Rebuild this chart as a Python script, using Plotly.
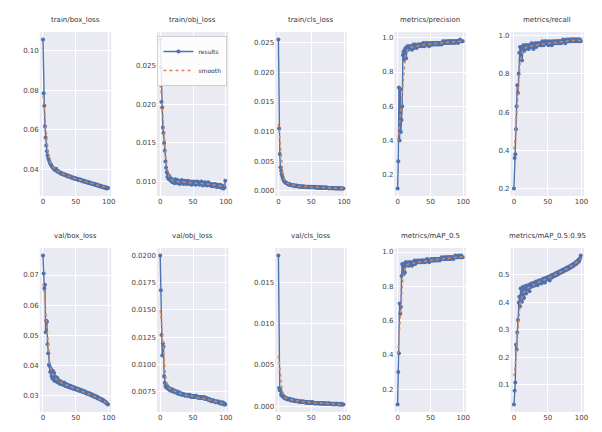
import numpy as np
import plotly.graph_objects as go

epochs = list(range(100))

train_box_loss = [
    0.1055, 0.0785, 0.0722, 0.0618, 0.0562, 0.0521, 0.0492, 0.0473, 0.0459, 0.0448,
    0.0439, 0.0431, 0.0426, 0.0419, 0.0415, 0.0410, 0.0406, 0.0403, 0.0399, 0.0397,
    0.0404, 0.0395, 0.0391, 0.0389, 0.0392, 0.0386, 0.0383, 0.0385, 0.0380, 0.0378,
    0.0381, 0.0376, 0.0374, 0.0377, 0.0372, 0.0370, 0.0373, 0.0368, 0.0366, 0.0369,
    0.0365, 0.0363, 0.0366, 0.0361, 0.0359, 0.0362, 0.0357, 0.0356, 0.0359, 0.0354,
    0.0353, 0.0356, 0.0351, 0.0350, 0.0353, 0.0348, 0.0347, 0.0350, 0.0345, 0.0344,
    0.0347, 0.0342, 0.0341, 0.0344, 0.0339, 0.0338, 0.0341, 0.0336, 0.0335, 0.0338,
    0.0333, 0.0332, 0.0335, 0.0330, 0.0329, 0.0332, 0.0327, 0.0326, 0.0329, 0.0324,
    0.0323, 0.0326, 0.0321, 0.0320, 0.0323, 0.0318, 0.0317, 0.0320, 0.0315, 0.0314,
    0.0317, 0.0312, 0.0311, 0.0314, 0.0309, 0.0308, 0.0311, 0.0306, 0.0305, 0.0308,
]

train_obj_loss = [
    0.0284, 0.0248, 0.0203, 0.0196, 0.0170, 0.0163, 0.0150, 0.0140, 0.0126, 0.0118,
    0.0112, 0.0106, 0.0109, 0.0103, 0.0107, 0.0102, 0.0104, 0.0100, 0.0103, 0.0099,
    0.0102, 0.0101, 0.0098, 0.0103, 0.0100, 0.0099, 0.0102, 0.0098, 0.0101, 0.0100,
    0.0097, 0.0101, 0.0099, 0.0102, 0.0098, 0.0100, 0.0097, 0.0101, 0.0099, 0.0098,
    0.0100, 0.0097, 0.0101, 0.0098, 0.0099, 0.0097, 0.0100, 0.0098, 0.0096, 0.0099,
    0.0098, 0.0100, 0.0097, 0.0099, 0.0096, 0.0098, 0.0100, 0.0097, 0.0099, 0.0098,
    0.0096, 0.0099, 0.0097, 0.0100, 0.0098, 0.0095, 0.0098, 0.0097, 0.0099, 0.0096,
    0.0098, 0.0095, 0.0097, 0.0099, 0.0096, 0.0098, 0.0095, 0.0097, 0.0096, 0.0094,
    0.0097, 0.0095, 0.0096, 0.0094, 0.0097, 0.0095, 0.0093, 0.0096, 0.0094, 0.0095,
    0.0093, 0.0096, 0.0094, 0.0092, 0.0095, 0.0093, 0.0091, 0.0094, 0.0092, 0.0101,
]

train_cls_loss = [
    0.0255, 0.0105, 0.0062, 0.0040, 0.0034, 0.0028, 0.0024, 0.0021, 0.0018, 0.0016,
    0.0015, 0.0014, 0.0013, 0.0013, 0.0012, 0.0011, 0.0012, 0.0010, 0.0011, 0.0010,
    0.0010, 0.0009, 0.0010, 0.0009, 0.0009, 0.0008, 0.0009, 0.0008, 0.0009, 0.0008,
    0.0008, 0.0008, 0.0007, 0.0008, 0.0007, 0.0008, 0.0007, 0.0007, 0.0008, 0.0007,
    0.0007, 0.0007, 0.0006, 0.0007, 0.0007, 0.0006, 0.0007, 0.0006, 0.0007, 0.0006,
    0.0006, 0.0007, 0.0006, 0.0006, 0.0006, 0.0007, 0.0006, 0.0006, 0.0005, 0.0006,
    0.0006, 0.0005, 0.0006, 0.0006, 0.0005, 0.0006, 0.0005, 0.0006, 0.0005, 0.0005,
    0.0006, 0.0005, 0.0005, 0.0006, 0.0005, 0.0005, 0.0005, 0.0004, 0.0005, 0.0005,
    0.0005, 0.0004, 0.0005, 0.0005, 0.0004, 0.0005, 0.0004, 0.0005, 0.0004, 0.0004,
    0.0005, 0.0004, 0.0004, 0.0004, 0.0005, 0.0004, 0.0004, 0.0004, 0.0004, 0.0004,
]

precision = [
    0.12, 0.28, 0.71, 0.40, 0.70, 0.45, 0.52, 0.60, 0.90, 0.92,
    0.87, 0.93, 0.94, 0.88, 0.94, 0.95, 0.93, 0.95, 0.94, 0.95,
    0.94, 0.95, 0.93, 0.95, 0.96, 0.94, 0.95, 0.96, 0.95, 0.94,
    0.95, 0.96, 0.95, 0.96, 0.95, 0.96, 0.96, 0.95, 0.96, 0.97,
    0.96, 0.95, 0.96, 0.97, 0.96, 0.96, 0.97, 0.96, 0.95, 0.96,
    0.97, 0.96, 0.96, 0.97, 0.96, 0.97, 0.96, 0.97, 0.97, 0.96,
    0.97, 0.96, 0.97, 0.97, 0.96, 0.97, 0.97, 0.96, 0.97, 0.98,
    0.97, 0.97, 0.98, 0.97, 0.97, 0.98, 0.97, 0.98, 0.97, 0.98,
    0.98, 0.97, 0.98, 0.98, 0.97, 0.98, 0.98, 0.97, 0.98, 0.98,
    0.98, 0.98, 0.97, 0.98, 0.98, 0.99, 0.98, 0.98, 0.98, 0.98,
]

recall = [
    0.20, 0.36, 0.38, 0.51, 0.63, 0.74, 0.70, 0.80, 0.91, 0.94,
    0.88, 0.94, 0.87, 0.93, 0.95, 0.92, 0.94, 0.95, 0.93, 0.95,
    0.94, 0.95, 0.93, 0.95, 0.94, 0.95, 0.96, 0.94, 0.95, 0.93,
    0.95, 0.96, 0.95, 0.94, 0.96, 0.95, 0.96, 0.95, 0.96, 0.95,
    0.96, 0.95, 0.97, 0.96, 0.95, 0.96, 0.97, 0.96, 0.96, 0.97,
    0.96, 0.95, 0.96, 0.97, 0.96, 0.96, 0.95, 0.97, 0.96, 0.96,
    0.97, 0.96, 0.96, 0.97, 0.96, 0.97, 0.97, 0.96, 0.97, 0.97,
    0.96, 0.97, 0.97, 0.98, 0.97, 0.97, 0.96, 0.97, 0.98, 0.97,
    0.97, 0.98, 0.97, 0.97, 0.98, 0.97, 0.98, 0.98, 0.97, 0.98,
    0.98, 0.97, 0.98, 0.98, 0.97, 0.98, 0.98, 0.97, 0.98, 0.97,
]

val_box_loss = [
    0.0765, 0.0705, 0.0655, 0.0668, 0.0510, 0.0548, 0.0545, 0.0470, 0.0440, 0.0402,
    0.0398, 0.0378, 0.0390, 0.0365, 0.0358, 0.0382, 0.0352, 0.0375, 0.0348, 0.0362,
    0.0355, 0.0346, 0.0358, 0.0343, 0.0350, 0.0340, 0.0348, 0.0338, 0.0345, 0.0337,
    0.0342, 0.0335, 0.0343, 0.0333, 0.0339, 0.0331, 0.0337, 0.0330, 0.0335, 0.0328,
    0.0333, 0.0327, 0.0332, 0.0325, 0.0330, 0.0324, 0.0328, 0.0322, 0.0327, 0.0321,
    0.0325, 0.0319, 0.0323, 0.0318, 0.0322, 0.0316, 0.0320, 0.0315, 0.0318, 0.0313,
    0.0317, 0.0312, 0.0315, 0.0310, 0.0313, 0.0308, 0.0311, 0.0306, 0.0309, 0.0305,
    0.0308, 0.0303, 0.0306, 0.0301, 0.0304, 0.0299, 0.0302, 0.0297, 0.0300, 0.0295,
    0.0298, 0.0293, 0.0296, 0.0291, 0.0294, 0.0289, 0.0291, 0.0287, 0.0289, 0.0285,
    0.0287, 0.0282, 0.0284, 0.0280, 0.0281, 0.0277, 0.0278, 0.0274, 0.0272, 0.0270,
]

val_obj_loss = [
    0.0200, 0.0168, 0.0127, 0.0108, 0.0119, 0.0116, 0.0089, 0.0083, 0.0080, 0.0079,
    0.0081, 0.0078, 0.0079, 0.0077, 0.0078, 0.0076, 0.0077, 0.0076, 0.0077, 0.0075,
    0.0076, 0.0075, 0.0076, 0.0074, 0.0075, 0.0074, 0.0075, 0.0073, 0.0074, 0.0073,
    0.0074, 0.0073, 0.0072, 0.0073, 0.0072, 0.0073, 0.0072, 0.0072, 0.0071, 0.0072,
    0.0072, 0.0071, 0.0072, 0.0071, 0.0071, 0.0072, 0.0071, 0.0070, 0.0071, 0.0070,
    0.0071, 0.0070, 0.0071, 0.0070, 0.0070, 0.0071, 0.0070, 0.0070, 0.0069, 0.0070,
    0.0070, 0.0069, 0.0070, 0.0069, 0.0070, 0.0069, 0.0069, 0.0070, 0.0068, 0.0069,
    0.0068, 0.0069, 0.0068, 0.0068, 0.0067, 0.0068, 0.0067, 0.0067, 0.0066, 0.0067,
    0.0066, 0.0067, 0.0066, 0.0066, 0.0065, 0.0066, 0.0065, 0.0065, 0.0066, 0.0065,
    0.0065, 0.0064, 0.0065, 0.0064, 0.0064, 0.0065, 0.0064, 0.0063, 0.0064, 0.0063,
]

val_cls_loss = [
    0.0183, 0.0022, 0.0019, 0.0020, 0.0014, 0.0016, 0.0012, 0.0013, 0.0011, 0.0010,
    0.0011, 0.0009, 0.0010, 0.0009, 0.0008, 0.0009, 0.0008, 0.0009, 0.0008, 0.0007,
    0.0008, 0.0007, 0.0008, 0.0007, 0.0007, 0.0006, 0.0007, 0.0006, 0.0007, 0.0006,
    0.0006, 0.0006, 0.0005, 0.0006, 0.0005, 0.0006, 0.0005, 0.0005, 0.0006, 0.0005,
    0.0005, 0.0005, 0.0004, 0.0005, 0.0005, 0.0004, 0.0005, 0.0004, 0.0004, 0.0005,
    0.0004, 0.0004, 0.0005, 0.0004, 0.0004, 0.0004, 0.0003, 0.0004, 0.0004, 0.0004,
    0.0004, 0.0003, 0.0004, 0.0004, 0.0003, 0.0004, 0.0003, 0.0004, 0.0003, 0.0003,
    0.0003, 0.0004, 0.0003, 0.0003, 0.0003, 0.0003, 0.0004, 0.0003, 0.0003, 0.0003,
    0.0003, 0.0003, 0.0003, 0.0002, 0.0003, 0.0003, 0.0003, 0.0002, 0.0003, 0.0003,
    0.0003, 0.0002, 0.0003, 0.0002, 0.0002, 0.0003, 0.0002, 0.0002, 0.0002, 0.0002,
]

map50 = [
    0.11, 0.30, 0.41, 0.70, 0.64, 0.68, 0.86, 0.93, 0.92, 0.87,
    0.93, 0.88, 0.94, 0.92, 0.93, 0.94, 0.93, 0.92, 0.94, 0.93,
    0.94, 0.93, 0.92, 0.94, 0.93, 0.94, 0.95, 0.93, 0.94, 0.94,
    0.95, 0.94, 0.94, 0.95, 0.94, 0.95, 0.94, 0.95, 0.95, 0.94,
    0.95, 0.95, 0.94, 0.95, 0.95, 0.96, 0.95, 0.95, 0.94, 0.95,
    0.95, 0.96, 0.95, 0.95, 0.96, 0.95, 0.96, 0.95, 0.96, 0.96,
    0.95, 0.96, 0.96, 0.96, 0.95, 0.96, 0.96, 0.97, 0.96, 0.96,
    0.96, 0.97, 0.96, 0.96, 0.97, 0.96, 0.97, 0.97, 0.96, 0.97,
    0.97, 0.96, 0.97, 0.97, 0.97, 0.96, 0.97, 0.97, 0.98, 0.97,
    0.97, 0.97, 0.98, 0.97, 0.97, 0.98, 0.97, 0.98, 0.97, 0.97,
]

map50_95 = [
    0.028, 0.078, 0.108, 0.245, 0.228, 0.290, 0.335, 0.398, 0.420, 0.385,
    0.450, 0.425, 0.402, 0.455, 0.440, 0.415, 0.458, 0.445, 0.432, 0.460,
    0.448, 0.462, 0.452, 0.440, 0.465, 0.455, 0.468, 0.458, 0.463, 0.470,
    0.460, 0.472, 0.465, 0.475, 0.468, 0.462, 0.477, 0.470, 0.480, 0.472,
    0.478, 0.468, 0.483, 0.475, 0.486, 0.479, 0.472, 0.488, 0.482, 0.490,
    0.484, 0.493, 0.486, 0.479, 0.495, 0.489, 0.498, 0.491, 0.500, 0.494,
    0.503, 0.496, 0.505, 0.499, 0.508, 0.501, 0.510, 0.504, 0.512, 0.507,
    0.515, 0.509, 0.517, 0.512, 0.520, 0.514, 0.522, 0.517, 0.525, 0.519,
    0.527, 0.522, 0.530, 0.524, 0.533, 0.528, 0.536, 0.530, 0.539, 0.534,
    0.542, 0.537, 0.546, 0.541, 0.550, 0.545, 0.555, 0.551, 0.560, 0.570,
]

titles = ["train/box_loss", "train/obj_loss", "train/cls_loss", "metrics/precision", "metrics/recall",
          "val/box_loss", "val/obj_loss", "val/cls_loss", "metrics/mAP_0.5", "metrics/mAP_0.5:0.95"]
series = [train_box_loss, train_obj_loss, train_cls_loss, precision, recall,
          val_box_loss, val_obj_loss, val_cls_loss, map50, map50_95]
ytick_vals = [
    [0.04, 0.06, 0.08, 0.10],
    [0.010, 0.015, 0.020, 0.025],
    [0.000, 0.005, 0.010, 0.015, 0.020, 0.025],
    [0.2, 0.4, 0.6, 0.8, 1.0],
    [0.2, 0.4, 0.6, 0.8, 1.0],
    [0.03, 0.04, 0.05, 0.06, 0.07],
    [0.0075, 0.0100, 0.0125, 0.0150, 0.0175, 0.0200],
    [0.000, 0.005, 0.010, 0.015],
    [0.2, 0.4, 0.6, 0.8, 1.0],
    [0.0, 0.1, 0.2, 0.3, 0.4, 0.5],
]
ytick_fmt = [".2f", ".3f", ".3f", ".1f", ".1f", ".2f", ".4f", ".3f", ".1f", ".1f"]
xtick_vals = [0, 50, 100]


def gaussian_smooth(y, sigma=3):
    y = np.asarray(y, dtype=float)
    r = int(4 * sigma + 0.5)
    k = np.exp(-0.5 * (np.arange(-r, r + 1) / sigma) ** 2)
    k /= k.sum()
    p = np.pad(y, r, mode="symmetric")
    return np.convolve(p, k, mode="valid")


W, H = 602, 432
col_px = [(40, 112), (158, 230), (277, 349), (397, 469), (514, 588)]
row_px = [(32, 196), (248, 412)]
title_y_px = [20, 236]

BLUE = "#4C72B0"
ORANGE = "#DD8452"
FONT = "DejaVu Sans"

fig = go.Figure()
layout = {}
annotations = []
xs = np.array(epochs)
xmin, xmax = xs.min(), xs.max()
xpad = 0.05 * (xmax - xmin)

for i, (title, y) in enumerate(zip(titles, series)):
    n = i + 1
    r, c = divmod(i, 5)
    xname = "x" if n == 1 else f"x{n}"
    yname = "y" if n == 1 else f"y{n}"
    ys = gaussian_smooth(y)
    fig.add_trace(go.Scatter(
        x=epochs, y=y, mode="lines+markers", name="results",
        line=dict(color=BLUE, width=1.4), marker=dict(color=BLUE, size=4),
        xaxis=xname, yaxis=yname, showlegend=(i == 0), legendgroup="results"))
    fig.add_trace(go.Scatter(
        x=epochs, y=ys, mode="lines", name="smooth",
        line=dict(color=ORANGE, width=1.5, dash="dot"),
        xaxis=xname, yaxis=yname, showlegend=(i == 0), legendgroup="smooth"))
    ya = np.asarray(y, float)
    lo, hi = min(ya.min(), ys.min()), max(ya.max(), ys.max())
    pad = 0.05 * (hi - lo)
    x0, x1 = col_px[c]
    y0, y1 = row_px[r]
    axis_common = dict(showgrid=True, gridcolor="white", gridwidth=1, zeroline=False,
                       showline=False, ticks="", tickfont=dict(size=7, color="#444", family=FONT))
    layout[f"xaxis{n if n > 1 else ''}"] = dict(
        domain=[x0 / W, x1 / W], anchor=yname, range=[xmin - xpad, xmax + xpad],
        tickvals=xtick_vals, **axis_common)
    layout[f"yaxis{n if n > 1 else ''}"] = dict(
        domain=[1 - y1 / H, 1 - y0 / H], anchor=xname, range=[lo - pad, hi + pad],
        tickvals=ytick_vals[i], tickformat=ytick_fmt[i], **axis_common)
    annotations.append(dict(
        text=title, x=(x0 + x1) / 2 / W, y=1 - title_y_px[r] / H, xref="paper", yref="paper",
        xanchor="center", yanchor="middle", showarrow=False,
        font=dict(size=7, color="#333", family=FONT)))

fig.update_layout(
    width=W, height=H, margin=dict(l=0, r=0, t=0, b=0),
    paper_bgcolor="white", plot_bgcolor="#EAEAF2",
    font=dict(family=FONT, size=7, color="#333"),
    annotations=annotations,
    legend=dict(x=229 / W, y=1 - 36 / H, xanchor="right", yanchor="top",
                bgcolor="rgba(255,255,255,0.85)", bordercolor="#d0d0d0", borderwidth=1,
                font=dict(size=6, family=FONT, color="#333"), itemwidth=30, tracegroupgap=0),
    **layout,
)

fig.write_html("out.html", config={"displayModeBar": False},
               post_script="document.body.style.margin='0';")
